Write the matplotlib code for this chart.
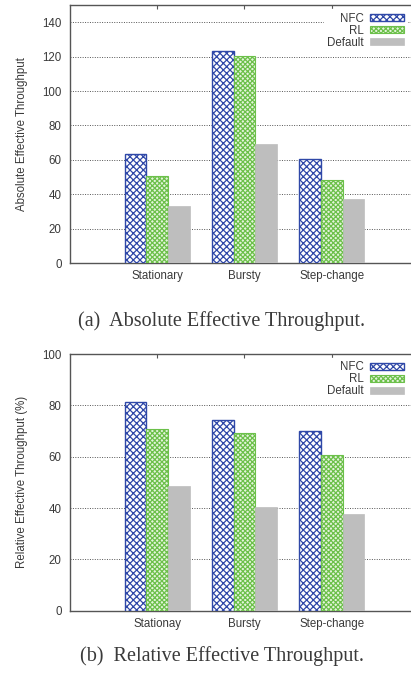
import matplotlib
matplotlib.use("Agg")
import matplotlib.pyplot as plt
import numpy as np

# ---- data ----
cats_a = ["Stationary", "Bursty", "Step-change"]
cats_b = ["Stationay", "Bursty", "Step-change"]
series = ["NFC", "RL", "Default"]
abs_nfc = [63.5, 123, 60.5]
abs_rl = [50.5, 120.5, 48]
abs_def = [33, 69, 37.3]
rel_nfc = [81.2, 74.2, 69.9]
rel_rl = [70.7, 69.1, 60.5]
rel_def = [48.6, 40.4, 37.6]
yticks_a = [0, 20, 40, 60, 80, 100, 120, 140]
yticks_b = [0, 20, 40, 60, 80, 100]

BLUE = "#2f48a8"
GREEN = "#6cc04a"
GRAY = "#bebebe"
TXT = "#3a3a3a"

plt.rcParams["font.family"] = ["Liberation Sans", "DejaVu Sans"]
plt.rcParams["hatch.linewidth"] = 0.9

fig = plt.figure(figsize=(4.11, 6.77), dpi=100)

def panel(rect, cats, nfc, rl, dflt, yticks, ylim, ylabel, caption, cap_y):
    ax = fig.add_axes(rect)
    x = np.arange(len(cats))
    w = 0.25
    ax.bar(x - w, nfc, w, facecolor="white", edgecolor=BLUE, hatch="xxxxx",
           linewidth=1.0, label=series[0], zorder=3)
    ax.bar(x, rl, w, facecolor="#e4f4dc", edgecolor=GREEN, hatch="xxxxxxx",
           linewidth=0.8, label=series[1], zorder=3)
    ax.bar(x + w, dflt, w, facecolor=GRAY, edgecolor=GRAY, linewidth=0.5,
           label=series[2], zorder=3)
    ax.set_xlim(-1.0, 2.91)
    ax.set_ylim(*ylim)
    ax.set_yticks(yticks)
    ax.set_xticks(x)
    ax.set_xticklabels(cats)
    ax.yaxis.grid(True, linestyle=(0, (1, 1.5)), color="#555555", linewidth=0.7, zorder=0)
    ax.set_axisbelow(True)
    ax.tick_params(axis="y", length=0, pad=6, labelsize=8.3, colors=TXT)
    ax.tick_params(axis="x", direction="in", length=3, top=True, pad=5,
                   labelsize=8.3, colors="#555555", labelcolor=TXT)
    for s in ["left", "bottom", "top"]:
        ax.spines[s].set_color("#555555")
        ax.spines[s].set_linewidth(1.0)
    ax.spines["right"].set_visible(False)
    ax.set_ylabel(ylabel, fontsize=8.3, color=TXT, labelpad=10)
    leg = ax.legend(loc="upper right", markerfirst=False, frameon=True,
                    fontsize=8.3, handlelength=2.9, handleheight=0.6,
                    handletextpad=0.55, labelspacing=0.0, borderpad=0.3,
                    borderaxespad=0.35, fancybox=False)
    leg.get_frame().set_facecolor("white")
    leg.get_frame().set_edgecolor("white")
    leg.get_frame().set_alpha(1)
    leg.set_zorder(5)
    for t in leg.get_texts():
        t.set_color(TXT)
    fig.text(0.54, cap_y, caption, ha="center", va="center",
             fontsize=14.5, family=["Liberation Serif", "DejaVu Serif"], color=TXT)
    return ax

panel([0.1703, 0.6115, 0.8297, 0.3811], cats_a, abs_nfc, abs_rl, abs_def,
      yticks_a, (0, 150), "Absolute Effective Throughput",
      "(a)  Absolute Effective Throughput.", 1 - 321 / 677)
panel([0.1703, 0.0979, 0.8297, 0.3792], cats_b, rel_nfc, rel_rl, rel_def,
      yticks_b, (0, 100), "Relative Effective Throughput (%)",
      "(b)  Relative Effective Throughput.", 1 - 656 / 677)

fig.savefig("out.png", dpi=100)
